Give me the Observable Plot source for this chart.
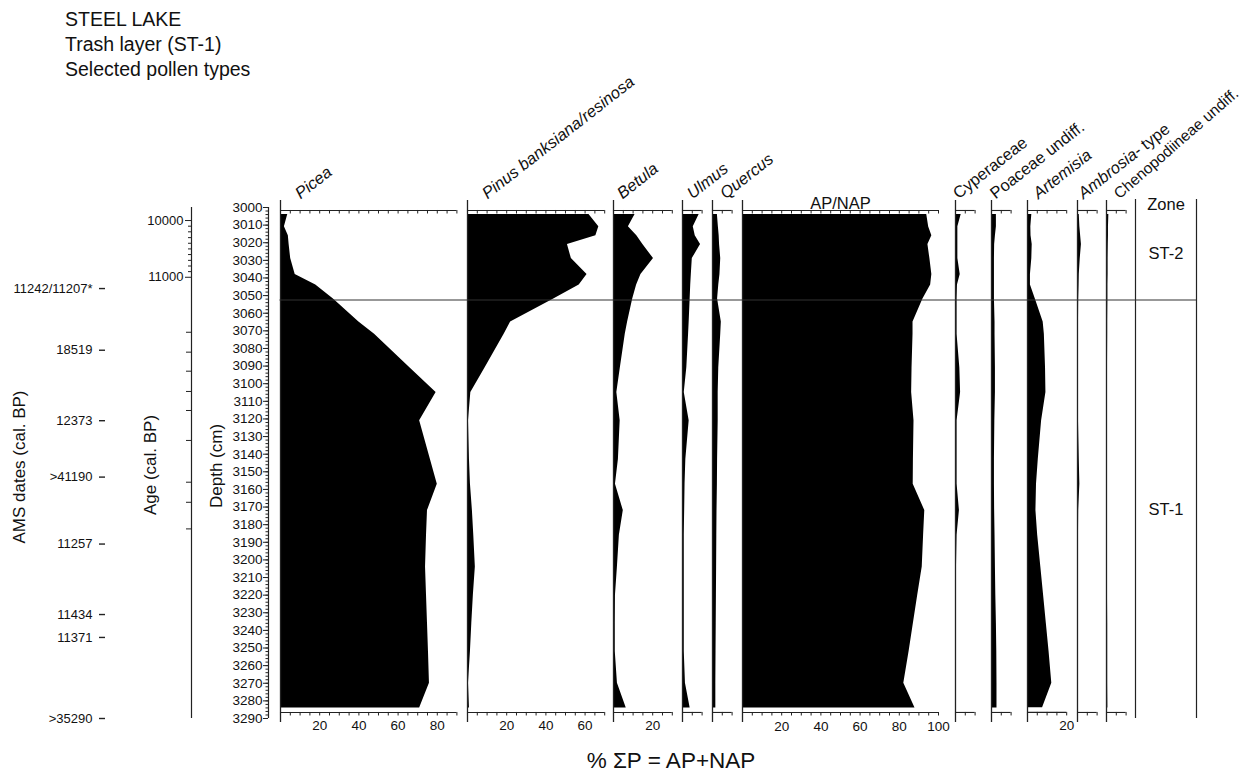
<!DOCTYPE html>
<html><head><meta charset="utf-8">
<script src="https://cdn.jsdelivr.net/npm/d3@7"></script>
<script src="https://cdn.jsdelivr.net/npm/@observablehq/plot@0.6"></script>
<style>
body{margin:0;background:#fff;}
#chart{position:relative;width:1253px;height:773px;font-family:"Liberation Sans",Arial,sans-serif;overflow:hidden;background:#fff;color:#111;}
#chart svg{position:absolute;top:0;}
.title{position:absolute;left:65px;top:7px;font-size:19.5px;line-height:25px;}
.caption{position:absolute;left:531px;top:748px;width:280px;text-align:center;font-size:22.5px;}
</style></head><body>
<div id="chart">
<div class="title">STEEL LAKE<br>Trash layer (ST-1)<br>Selected pollen types</div>
<div class="caption">% ΣP = AP+NAP</div>
</div>
<script>
// ---------------- data ----------------
const depths    = [3004, 3011, 3016, 3021, 3029, 3038, 3044, 3052, 3065, 3072, 3091, 3105, 3121, 3143, 3157, 3172, 3186, 3204, 3220, 3236, 3252, 3270, 3284];
const picea     = [3.7, 2.0, 4.0, 4.4, 5.2, 7.5, 18, 27, 40, 48, 66, 79.4, 71, 76.5, 80, 75, 74.5, 74, 74.5, 75, 75.5, 76, 71];
const pinus     = [62, 67, 65.5, 51, 53, 61, 57, 44, 22, 18.7, 9, 1.7, 0.5, 1, 1.5, 2.5, 3.2, 4, 3, 2.2, 1.5, 0.5, 1];
const betula    = [11, 7.6, 11.9, 15, 20.4, 14, 11.8, 9.8, 7.2, 6, 3.5, 1.7, 3.4, 2.5, 1, 5, 3, 2, 1, 0.9, 0.9, 2, 6.5];
const ulmus     = [8.5, 5.5, 6.5, 9.2, 5, 4.5, 4.2, 3.9, 3.4, 3.1, 2.2, 0.9, 3.4, 1.7, 1.3, 1.1, 0.9, 0.9, 0.9, 0.9, 0.9, 1.5, 3.9];
const quercus   = [2.5, 3, 3.4, 3.6, 4.2, 3.8, 3.2, 2.6, 4.5, 4.2, 3.2, 2.9, 2.9, 2.6, 2.5, 2.3, 2.2, 2.1, 2, 1.9, 1.8, 1.7, 1.7];
const apnap     = [94, 95, 96.6, 94.6, 95.6, 96.6, 96, 92, 87, 87, 86.5, 86.3, 87.5, 87.2, 87.1, 93, 92.4, 91.7, 89.4, 87.2, 85, 82.3, 88];
const cyperaceae= [2.9, 1.2, 1.2, 1.2, 1.2, 2.4, 1.0, 0.8, 0.8, 0.8, 2.2, 2.6, 0.8, 0.8, 0.8, 2.0, 0.8, 0.5, 0.4, 0.4, 0.4, 0.4, 0.4];
const poaceae   = [2.5, 2.5, 2.0, 1.6, 1.5, 1.5, 1.5, 1.5, 1.8, 1.8, 2.0, 2.0, 1.7, 1.5, 1.5, 1.6, 1.8, 2.0, 2.2, 2.5, 2.7, 2.8, 2.8];
const artemisia = [2.2, 1.7, 1.8, 2.4, 2.2, 1.5, 1.5, 4, 8, 8.6, 9.2, 9.4, 7.2, 5.5, 4.6, 4.3, 5.2, 6.8, 8.2, 9.6, 11, 12.4, 7.7];
const ambrosia  = [0.9, 1.2, 1.6, 2.0, 1.4, 0.9, 0.8, 0.6, 0.5, 0.4, 0.3, 0.3, 0.5, 0.9, 1.2, 0.6, 0.5, 0.4, 0.3, 0.3, 0.3, 0.3, 0.3];
const cheno     = [1.2, 1.0, 1.0, 0.9, 0.8, 0.8, 0.7, 0.7, 0.6, 0.6, 0.5, 0.4, 0.4, 0.4, 0.3, 0.4, 0.4, 0.5, 0.5, 0.6, 0.6, 0.6, 0.7];

const taxa      = ["Picea", "Pinus banksiana/resinosa", "Betula", "Ulmus", "Quercus", "AP/NAP", "Cyperaceae", "Poaceae undiff.", "Artemisia", "Ambrosia- type", "Chenopodiineae undiff."];
const taxaMax   = [90, 70, 30, 10, 10, 100, 10, 10, 20, 10, 10];
const percentTickLabels = [20, 40, 60, 80, 100];

const depthTickLabels = [3000,3010,3020,3030,3040,3050,3060,3070,3080,3090,3100,3110,3120,3130,3140,3150,3160,3170,3180,3190,3200,3210,3220,3230,3240,3250,3260,3270,3280,3290];
const ageTickLabels = ["10000", "11000"];
const ageTickLabelDepths = [3007.4, 3039.6];
const ageMinorTickDepths = [3010.6, 3013.8, 3017.1, 3020.3, 3023.5, 3026.7, 3030.0, 3033.2, 3036.4];
const ageOtherTickDepths = [3070.8, 3082.1, 3092.9, 3104.4, 3115.2, 3132.2, 3155.9, 3167.3, 3182.4];

const amsDates  = ["11242/11207*", "18519", "12373", ">41190", "11257", "11434", "11371", ">35290"];
const amsDepths = [3046, 3081, 3121, 3153, 3191, 3231, 3244, 3290];

const zoneNames = ["ST-2", "ST-1"];
const zoneTops  = [3000, 3052.5];
const zoneBottoms = [3052.5, 3290];

// ---------------- layout ----------------
const series = [picea, pinus, betula, ulmus, quercus, apnap, cyperaceae, poaceae, artemisia, ambrosia, cheno];
const layout = [
  {x0: 279.5, ldx: 20, parts: [["Picea", true]]},
  {x0: 466.5, ldx: 20, parts: [["Pinus banksiana/resinosa", true]]},
  {x0: 613,   ldx: 9,  parts: [["Betula", true]]},
  {x0: 682,   ldx: 10, parts: [["Ulmus", true]]},
  {x0: 712,   ldx: 13, parts: [["Quercus", true]]},
  {x0: 741.5, horizontal: true, parts: [["AP/NAP", false]]},
  {x0: 954.5, ldx: 3,  parts: [["Cyperaceae", false]]},
  {x0: 990.5, ldx: 4,  parts: [["Poaceae undiff.", false]]},
  {x0: 1027,  ldx: 11, parts: [["Artemisia", true]]},
  {x0: 1077,  ldx: 6,  parts: [["Ambrosia", true], ["- type", false]]},
  {x0: 1106,  ldx: 13, size: 15.5, angle: -41, parts: [["Chenopodiineae undiff.", false]]}
];

const K = 1.96;            // px per percent
const H = 773;
const YR = [207, 718];
const depthDomain = [depthTickLabels[0], depthTickLabels[depthTickLabels.length - 1]];
const FONT = '"Liberation Sans", Arial, sans-serif';
const chart = document.getElementById("chart");
const baseStyle = {fontFamily: FONT, fontSize: "13px", background: "none", overflow: "visible", color: "#111"};
const LABEL_SIZE = 16.5, ANGLE = -38;

const ctx = document.createElement("canvas").getContext("2d");
function textWidth(t, italic, size) {
  ctx.font = `${italic ? "italic " : ""}${size}px "Liberation Sans", Arial, sans-serif`;
  return ctx.measureText(t).width;
}
function place(svg, left) {
  svg.style.left = left + "px";
  chart.appendChild(svg);
}
const yOpt = () => ({domain: depthDomain, range: YR, axis: null});

// ---------------- pollen panels ----------------
taxa.forEach((name, j) => {
  const max = taxaMax[j], L = layout[j];
  const ML = 40, MR = 40;
  const w = ML + max * K + MR;
  const data = depths.map((d, i) => ({depth: d, value: series[j][i]}));
  const fine = d3.range(0, max + 0.01, 5);
  const labs = percentTickLabels.filter(v => v <= max);
  const marks = [
    Plot.areaX(data, {y: "depth", x: "value", fill: "#000", curve: "linear"}),
    Plot.ruleX([0], {stroke: "#222", strokeWidth: 1.3, insetTop: -7, insetBottom: -4}),
    Plot.ruleY([depthDomain[0]], {x1: 0, x2: max, dy: 3, stroke: "#222", strokeWidth: 1.1}),
    Plot.ruleX(fine, {insetTop: 3, insetBottom: 504.5, stroke: "#222"}),
    Plot.ruleY([depthDomain[1]], {x1: 0, x2: max, dy: -6, stroke: "#222", strokeWidth: 1.1}),
    Plot.ruleX(fine, {insetTop: 505, insetBottom: 2.5, stroke: "#222"}),
    Plot.text(labs, {x: d => d, frameAnchor: "bottom", dy: 12, fontSize: 13.5})
  ];
  if (L.horizontal) {
    marks.push(Plot.text([name], {frameAnchor: "top", dy: -10, fontSize: 16.5}));
  } else {
    let off = 0;
    const size = L.size || LABEL_SIZE, ang = L.angle || ANGLE;
    const rad = ang * Math.PI / 180;
    L.parts.forEach(([t, it]) => {
      marks.push(Plot.text([t], {
        frameAnchor: "top-left", dx: L.ldx + off * Math.cos(rad), dy: -8 + off * Math.sin(rad),
        rotate: ang, textAnchor: "start", lineAnchor: "bottom",
        fontSize: size, fontStyle: it ? "italic" : "normal"
      }));
      off += textWidth(t, it, size);
    });
  }
  const svg = Plot.plot({
    width: w, height: H, marginLeft: ML, marginRight: MR, marginTop: YR[0], marginBottom: H - YR[1],
    x: {domain: [0, max], range: [ML, ML + max * K], axis: null},
    y: yOpt(),
    style: baseStyle,
    marks
  });
  place(svg, L.x0 - ML);
});

// ---------------- depth axis ----------------
const depthMinor = d3.range(depthDomain[0], depthDomain[1] + 0.01, 2);
place(Plot.plot({
  width: 272, height: H, marginLeft: 268, marginRight: 3, marginTop: YR[0], marginBottom: H - YR[1],
  x: {domain: [0, 1], range: [268, 269], axis: null},
  y: yOpt(), style: baseStyle,
  marks: [
    Plot.ruleX([0], {stroke: "#222", strokeWidth: 1.2}),
    Plot.axisY(depthMinor, {anchor: "left", tickSize: 2.5, tickFormat: () => "", label: null, stroke: "#222"}),
    Plot.axisY(depthTickLabels, {anchor: "left", tickSize: 5, tickPadding: 1, tickFormat: d => String(d), label: null, fontSize: 13.5, stroke: "#222"}),
    Plot.text(["Depth (cm)"], {frameAnchor: "middle", rotate: -90, dx: 216 - 268.5, dy: 3, fontSize: 17})
  ]
}), 0);

// ---------------- age axis ----------------
place(Plot.plot({
  width: 195, height: H, marginLeft: 191, marginRight: 3, marginTop: YR[0], marginBottom: H - YR[1],
  x: {domain: [0, 1], range: [191, 192], axis: null},
  y: yOpt(), style: baseStyle,
  marks: [
    Plot.ruleX([0], {stroke: "#222", strokeWidth: 1.2}),
    Plot.axisY(ageMinorTickDepths, {anchor: "left", tickSize: 3, tickFormat: () => "", label: null, stroke: "#222"}),
    Plot.axisY(ageOtherTickDepths, {anchor: "left", tickSize: 5, tickFormat: () => "", label: null, stroke: "#222"}),
    Plot.axisY(ageTickLabelDepths, {anchor: "left", tickSize: 6, tickPadding: 2, label: null, fontSize: 13, stroke: "#222",
      tickFormat: d => ageTickLabels[ageTickLabelDepths.indexOf(d)]}),
    Plot.text(["Age (cal. BP)"], {frameAnchor: "middle", rotate: -90, dx: 150 - 191.5, dy: 2, fontSize: 17})
  ]
}), 0);

// ---------------- AMS dates ----------------
const ams = amsDates.map((t, i) => ({date: t, depth: amsDepths[i]}));
place(Plot.plot({
  width: 108, height: H, marginLeft: 99, marginRight: 3, marginTop: YR[0], marginBottom: H - YR[1],
  x: {domain: [0, 1], range: [99, 105], axis: null},
  y: yOpt(), style: baseStyle,
  marks: [
    Plot.ruleY(ams, {y: "depth", stroke: "#222", strokeWidth: 1.4}),
    Plot.text(ams, {y: "depth", text: "date", frameAnchor: "left", dx: -7, textAnchor: "end", fontSize: 13}),
    Plot.text(["AMS dates (cal. BP)"], {frameAnchor: "middle", rotate: -90, dx: 19 - 102, dy: 4, fontSize: 17})
  ]
}), 0);

// ---------------- zone column ----------------
const zones = zoneNames.map((n, i) => ({name: n, top: zoneTops[i], bottom: zoneBottoms[i]}));
place(Plot.plot({
  width: 1200, height: H, marginLeft: 1135, marginRight: 4, marginTop: YR[0], marginBottom: H - YR[1],
  x: {domain: [0, 1], range: [1135, 1196], axis: null},
  y: yOpt(), style: baseStyle,
  marks: [
    Plot.ruleX([0, 1], {stroke: "#222", strokeWidth: 1.2, insetTop: -8}),
    Plot.text(["Zone"], {frameAnchor: "top", dy: -9, fontSize: 16.5}),
    Plot.text(zones, {y: d => (d.top + d.bottom) / 2, text: "name", fontSize: 16.5})
  ]
}), 0);

// ---------------- zone boundary ----------------
place(Plot.plot({
  width: 1197, height: H, marginLeft: 279.5, marginRight: 1, marginTop: YR[0], marginBottom: H - YR[1],
  x: {domain: [0, 1], range: [279.5, 1196], axis: null},
  y: yOpt(), style: baseStyle,
  marks: [
    Plot.ruleY([zoneBottoms[0]], {stroke: "#333", strokeWidth: 1.2})
  ]
}), 0);
</script>
</body></html>
